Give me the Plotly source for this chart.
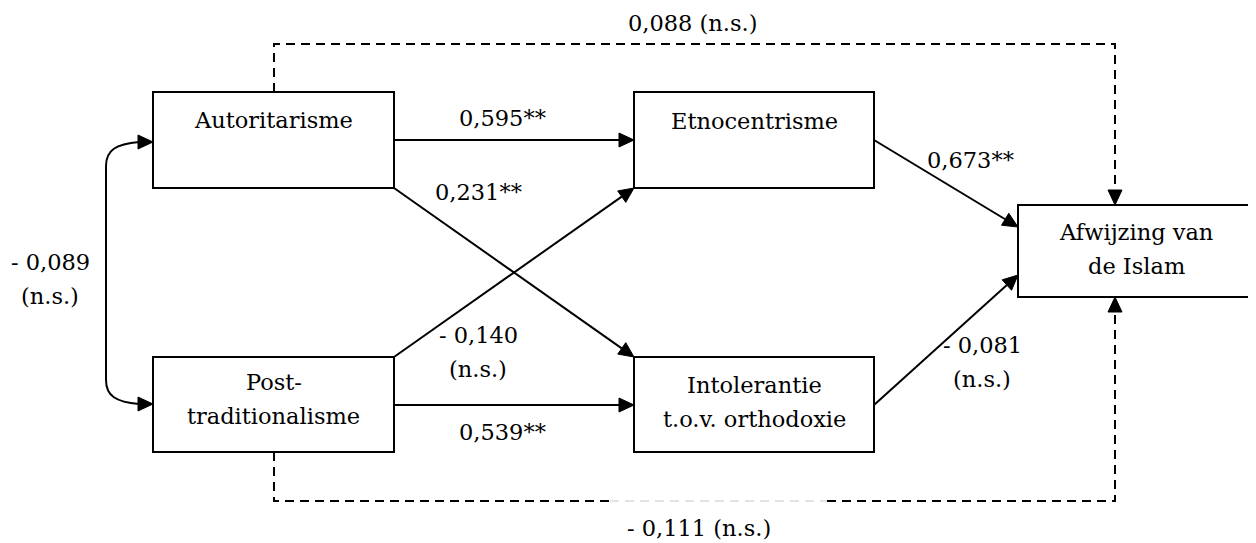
import math
import plotly.graph_objects as go

# ---------------- data ----------------
node_ids = ["A", "P", "E", "I", "F"]
node_labels = ["Autoritarisme", "Post-\ntraditionalisme", "Etnocentrisme",
               "Intolerantie\nt.o.v. orthodoxie", "Afwijzing van\nde Islam"]
path_from = ["A", "A", "P", "P", "E", "I", "A", "P"]
path_to = ["E", "I", "E", "I", "F", "F", "F", "F"]
path_coefs = ["0,595**", "0,231**", "- 0,140\n(n.s.)", "0,539**", "0,673**",
              "- 0,081\n(n.s.)", "0,088 (n.s.)", "- 0,111 (n.s.)"]
path_significant = [True, True, True, True, True, True, False, False]
corr_coef = "- 0,089\n(n.s.)"

# ---------------- layout (positions / styles) ----------------
W, H = 1256, 543
OFF = 8  # page body margin
FONT = dict(family="DejaVu Serif", size=22.5, color="black")
LINE_H = 34
boxes = {  # x0, x1, y0, y1
    "A": (153, 394, 92, 188),
    "P": (153, 394, 357, 452),
    "E": (634, 874, 92, 188),
    "I": (634, 874, 357, 452),
    "F": (1018, 1254, 205, 297),
}
box_text_y = {"A": 120, "P": 382, "E": 121, "I": 385, "F": 232}
# straight arrow geometry (start, end) and label positions
straight = {
    ("A", "E"): ((394, 140), (634, 140), (502, 118)),
    ("A", "I"): ((394, 188), (634, 357), (478, 192)),
    ("P", "E"): ((394, 357), (634, 188), (478, 335)),
    ("P", "I"): ((394, 405), (634, 405), (502, 432)),
    ("E", "F"): ((874, 140), (1018, 227), (970, 160)),
    ("I", "F"): ((874, 405), (1018, 275), (982, 345)),
}
dashed = {
    ("A", "F"): ([(274, 92), (274, 44), (1115, 44), (1115, 205)], (692, 23)),
    ("P", "F"): ([(274, 452), (274, 501), (1115, 501), (1115, 297)], (699, 528)),
}
AH_LEN, AH_HW = 15, 7

shapes = []
annotations = []


def add_text(text, x, y):
    for k, line in enumerate(text.split("\n")):
        annotations.append(dict(x=x, y=y + k * LINE_H, xref="x", yref="y", text=line,
                                showarrow=False, font=FONT, xanchor="center",
                                yanchor="middle"))


def arrowhead(tip, frm):
    dx, dy = tip[0] - frm[0], tip[1] - frm[1]
    L = math.hypot(dx, dy)
    ux, uy = dx / L, dy / L
    bx, by = tip[0] - ux * AH_LEN, tip[1] - uy * AH_LEN
    px, py = -uy * AH_HW, ux * AH_HW
    shapes.append(dict(type="path", xref="x", yref="y",
                       path=f"M {tip[0]},{tip[1]} L {bx+px},{by+py} L {bx-px},{by-py} Z",
                       fillcolor="black", line=dict(color="black", width=1)))
    return (bx, by)


# boxes
for nid, lab in zip(node_ids, node_labels):
    x0, x1, y0, y1 = boxes[nid]
    shapes.append(dict(type="rect", xref="x", yref="y", x0=x0, x1=x1, y0=y0, y1=y1,
                       line=dict(color="black", width=2), fillcolor="rgba(0,0,0,0)"))
    add_text(lab, (x0 + x1) / 2, box_text_y[nid])

# paths
for f, t, c, sig in zip(path_from, path_to, path_coefs, path_significant):
    if (f, t) in straight:
        s, e, lp = straight[(f, t)]
        base = arrowhead(e, s)
        shapes.append(dict(type="line", xref="x", yref="y", x0=s[0], y0=s[1],
                           x1=base[0], y1=base[1], line=dict(color="black", width=2)))
        add_text(c, *lp)
    else:
        pts, lp = dashed[(f, t)]
        base = arrowhead(pts[-1], pts[-2])
        pts = pts[:-1] + [base]
        if f == "P":
            # faint section of the bottom dashed line
            (xa, ya), (xb, yb) = pts[1], pts[2]
            segs = [[pts[0], pts[1], (610, ya)], [(827, yb), pts[2], pts[3]]]
            shapes.append(dict(type="line", xref="x", yref="y", x0=610, y0=ya, x1=827, y1=yb,
                               line=dict(color="#c8c8c8", width=1, dash="9px,6px")))
        else:
            segs = [pts]
        for seg in segs:
            d = "M " + " L ".join(f"{x},{y}" for x, y in seg)
            shapes.append(dict(type="path", xref="x", yref="y", path=d,
                               line=dict(color="black", width=2, dash="9px,6px")))
        add_text(c, *lp)

# curved double-headed correlation arrow
arrowhead((153, 142), (138, 142))
arrowhead((153, 404), (138, 404))
shapes.append(dict(type="path", xref="x", yref="y",
                   path="M 139,142 C 116,144 106,150 106,166 L 106,380 C 106,396 116,402 139,404",
                   line=dict(color="black", width=2)))
add_text(corr_coef, 50, 262)

fig = go.Figure()
fig.add_trace(go.Scatter(x=[OFF, W], y=[OFF, H], mode="markers", marker=dict(opacity=0),
                         hoverinfo="skip", showlegend=False))
fig.update_layout(
    width=W - OFF, height=H - OFF, margin=dict(l=0, r=0, t=0, b=0),
    plot_bgcolor="white", paper_bgcolor="white",
    xaxis=dict(range=[OFF, W], visible=False, fixedrange=True),
    yaxis=dict(range=[H, OFF], visible=False, fixedrange=True),
    shapes=shapes, annotations=annotations, showlegend=False,
)
fig.write_html("out.html")
